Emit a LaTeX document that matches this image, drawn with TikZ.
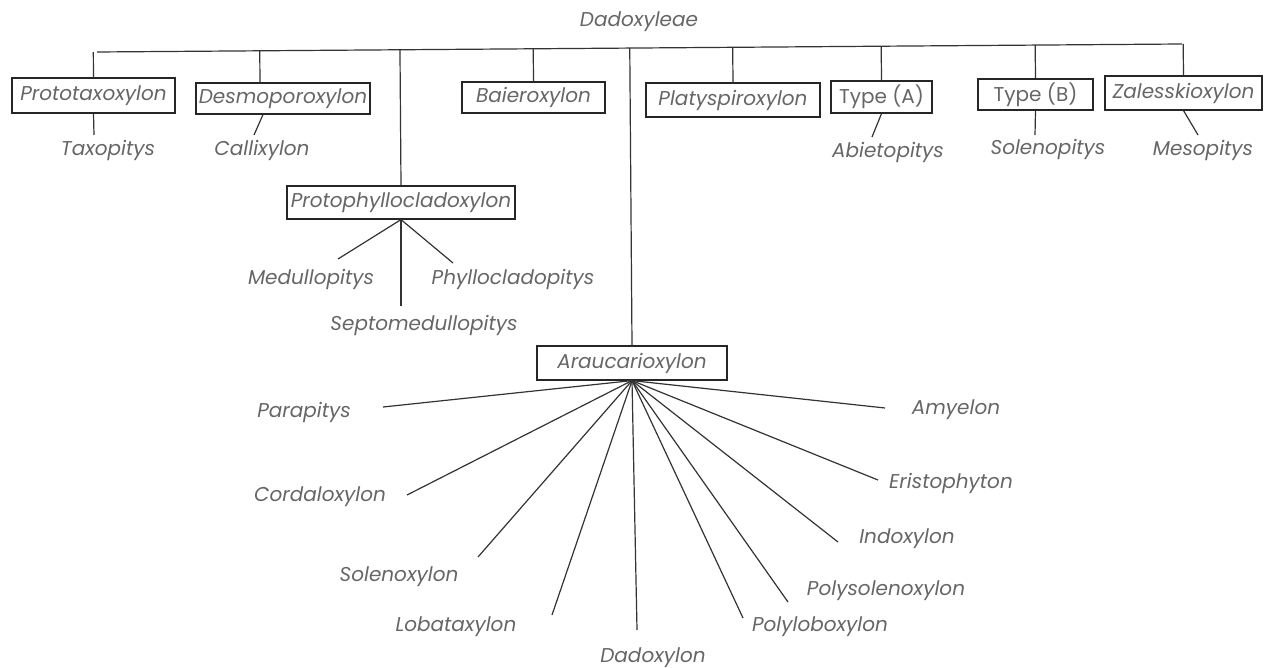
\documentclass[tikz,border=0pt]{standalone}
\usepackage{fontspec}
\setmainfont{Poppins}
\usetikzlibrary{positioning,calc}

\tikzstyle{lbl}=[inner sep=0pt, text=black!60, font=\fontsize{10}{12}\selectfont\itshape]
\tikzstyle{taxbox}=[rectangle, draw=black!85, line width=0.6pt, inner sep=0pt, text=black!60,
 font=\fontsize{10}{12}\selectfont\itshape]
\tikzstyle{upbox}=[taxbox, font=\fontsize{10}{12}\selectfont]
\tikzstyle{line}=[-, line width=0.6pt, draw=black!80]

% a genus name and the free end of the line that comes to it
\newcommand\genus[4]{
  \node (#1) [lbl] at (#2) {#3};
  \coordinate (#1e) at (#4);
}

\begin{document}
\begin{tikzpicture}[x=0.5pt,y=-0.5pt]
\useasboundingbox (0,0) rectangle (1267,668);

\node (top) [lbl] at (639,22) {Dadoxyleae};
\coordinate (tl) at (97,52);
\coordinate (tr) at (1182,44);

% first row of boxes
\node (proto) [taxbox, minimum width=81.5pt, minimum height=17.5pt] at (93.5,95.5) {Prototaxoxylon};
\node (desmo) [taxbox, minimum width=87pt, minimum height=15.5pt] at (283,98.5) {Desmoporoxylon};
\node (baier) [taxbox, minimum width=71.5pt, minimum height=15.5pt] at (533.5,97.5) {Baieroxylon};
\node (platy) [taxbox, minimum width=87pt, minimum height=17pt] at (733,100) {Platyspiroxylon};
\node (typea) [upbox, minimum width=50.5pt, minimum height=16pt] at (881.5,97) {Type (A)};
\node (typeb) [upbox, minimum width=57.5pt, minimum height=15.5pt] at (1035.5,94.5) {Type (B)};
\node (zales) [taxbox, minimum width=78.5pt, minimum height=17pt] at (1183.5,93) {Zalesskioxylon};

\node (phyl) [taxbox, minimum width=114pt, minimum height=16.5pt] at (401,202.5) {Protophyllocladoxylon};
\node (arau) [taxbox, minimum width=95pt, minimum height=17pt] at (632,363) {Araucarioxylon};

\genus{taxo}{108,150}{Taxopitys}{94,135}
\genus{calli}{262,150}{Callixylon}{254,135}
\genus{abiet}{888,152}{Abietopitys}{872,137}
\genus{solenop}{1048,149}{Solenopitys}{1035,135}
\genus{mesop}{1203,150}{Mesopitys}{1198,135}

\genus{medul}{311,279}{Medullopitys}{338,259}
\genus{phyllo}{513,279}{Phyllocladopitys}{453,263}
\genus{septo}{424,325}{Septomedullopitys}{401,306}

\genus{parap}{304,412}{Parapitys}{383,407}
\genus{cordal}{320,497}{Cordaloxylon}{407,495}
\genus{solenox}{399,577}{Solenoxylon}{478,557}
\genus{lobat}{456,627}{Lobataxylon}{552,615}
\genus{dadoxy}{653,658}{Dadoxylon}{637,630}
\genus{polylob}{820,627}{Polyloboxylon}{743,618}
\genus{polysol}{886,591}{Polysolenoxylon}{788,602}
\genus{indox}{907,539}{Indoxylon}{838,542}
\genus{erist}{951,483}{Eristophyton}{878,480}
\genus{amyel}{956,410}{Amyelon}{885,408}

\coordinate (desmotop) at ([xshift=-11.5pt]desmo.north);

\draw[line] (tl) -- (tr);
% drops from the top line, second number is the foot on the line
\foreach \b in {proto,phyl,baier,arau,platy,typea,typeb,zales}
  \draw[line] (\b.north) -- ($(tl)!(\b.north)!(tr)$);
\draw[line] (desmotop) -- ($(tl)!(desmotop)!(tr)$);

%second row
\draw[line] (proto.south) -- (taxoe);
\draw[line] ([xshift=-10pt]desmo.south) -- (callie);
\draw[line] (typea.south) -- (abiete);
\draw[line] (typeb.south) -- (solenope);
\draw[line] (zales.south) -- (mesope);

\foreach \g in {medul,phyllo,septo}
  \draw[line] (phyl.south) -- (\g e);

\foreach \g in {parap,cordal,solenox,lobat,dadoxy,polylob,polysol,indox,erist,amyel}
  \draw[line] (arau.south) -- (\g e);

\end{tikzpicture}
\end{document}
